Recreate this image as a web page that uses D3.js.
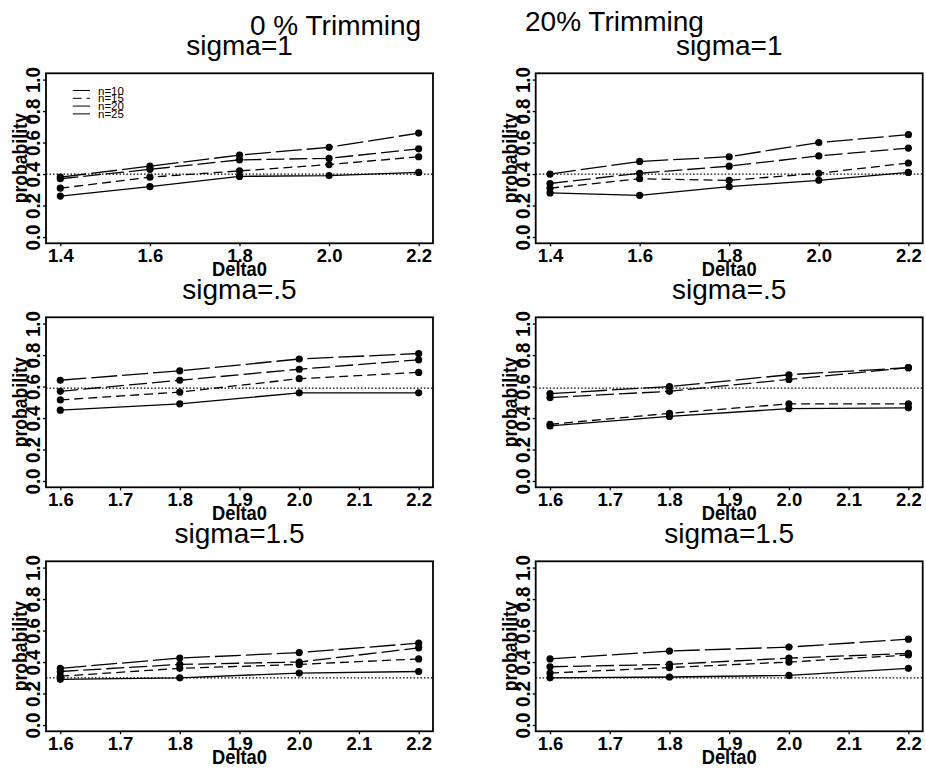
<!DOCTYPE html>
<html>
<head>
<meta charset="utf-8">
<script src="https://cdn.jsdelivr.net/npm/d3@7"></script>
<style>
  body { margin: 0; background: #fff; }
  svg { display: block; }
  .axis text { font-family: "Liberation Sans", Arial, sans-serif; font-size: 18.5px; font-weight: bold; fill: #000; }
  .axis line { stroke: #000; stroke-width: 1.3; }
  .axis path { display: none; }
</style>
</head>
<body>
<script>
// x values of each row
var delta1 = [1.4, 1.6, 1.8, 2.0, 2.2];
var delta2 = [1.6, 1.8, 2.0, 2.2];
var xTicks1 = [1.4, 1.6, 1.8, 2.0, 2.2];
var xTicks2 = [1.6, 1.7, 1.8, 1.9, 2.0, 2.1, 2.2];
var yTicks = [0, 0.2, 0.4, 0.6, 0.8, 1.0];

var seriesNames = ["n=10", "n=15", "n=20", "n=25"];

// probabilities, one row per n (n=10, n=15, n=20, n=25)
var trim0Sigma1 = [
  [0.38, 0.45, 0.52, 0.57, 0.66],
  [0.31, 0.38, 0.42, 0.46, 0.51],
  [0.37, 0.43, 0.49, 0.50, 0.56],
  [0.26, 0.32, 0.385, 0.39, 0.41]
];
var trim20Sigma1 = [
  [0.40, 0.48, 0.51, 0.60, 0.65],
  [0.31, 0.37, 0.36, 0.405, 0.47],
  [0.34, 0.405, 0.45, 0.515, 0.565],
  [0.28, 0.265, 0.32, 0.36, 0.41]
];
var trim0Sigma05 = [
  [0.64, 0.70, 0.775, 0.81],
  [0.515, 0.565, 0.65, 0.69],
  [0.57, 0.64, 0.71, 0.77],
  [0.45, 0.49, 0.56, 0.56]
];
var trim20Sigma05 = [
  [0.555, 0.60, 0.675, 0.72],
  [0.36, 0.43, 0.49, 0.49],
  [0.53, 0.57, 0.645, 0.72],
  [0.35, 0.41, 0.46, 0.465]
];
var trim0Sigma15 = [
  [0.36, 0.425, 0.46, 0.52],
  [0.31, 0.36, 0.385, 0.42],
  [0.34, 0.385, 0.40, 0.49],
  [0.29, 0.30, 0.33, 0.34]
];
var trim20Sigma15 = [
  [0.42, 0.47, 0.495, 0.545],
  [0.33, 0.365, 0.40, 0.445],
  [0.37, 0.385, 0.425, 0.455],
  [0.30, 0.305, 0.315, 0.36]
];

// reference levels (dotted lines)
var refLevels = [0.4, 0.59, 0.3];

var width = 926;
var height = 771;
var font = "'Liberation Sans', Arial, sans-serif";

// dash style per n
var dashes = ["26,5", "9,5", "18,5", null];

var svg = d3.select("body")
  .append("svg")
  .attr("width", width)
  .attr("height", height);

var panels = [
  { col: 0, row: 0, title: "sigma=1", xs: delta1, ticks: xTicks1, data: trim0Sigma1, ref: refLevels[0], legend: true },
  { col: 1, row: 0, title: "sigma=1", xs: delta1, ticks: xTicks1, data: trim20Sigma1, ref: refLevels[0] },
  { col: 0, row: 1, title: "sigma=.5", xs: delta2, ticks: xTicks2, data: trim0Sigma05, ref: refLevels[1] },
  { col: 1, row: 1, title: "sigma=.5", xs: delta2, ticks: xTicks2, data: trim20Sigma05, ref: refLevels[1] },
  { col: 0, row: 2, title: "sigma=1.5", xs: delta2, ticks: xTicks2, data: trim0Sigma15, ref: refLevels[2] },
  { col: 1, row: 2, title: "sigma=1.5", xs: delta2, ticks: xTicks2, data: trim20Sigma15, ref: refLevels[2] }
];

var boxW = 387, boxH = 170;
var lefts = [46, 535.7];
var tops = [73.3, 317.3, 561.3];

panels.forEach(function (p) {
  var left = lefts[p.col];
  var top = tops[p.row];
  var xmin = d3.min(p.xs), xmax = d3.max(p.xs);
  var pad = (xmax - xmin) * 0.04;

  var x = d3.scaleLinear().domain([xmin - pad, xmax + pad]).range([left, left + boxW]);
  var y = d3.scaleLinear().domain([-0.04, 1.04]).range([top + boxH, top]);

  var g = svg.append("g");

  // panel title
  g.append("text")
    .attr("x", left + boxW / 2)
    .attr("y", top - 18)
    .attr("text-anchor", "middle")
    .attr("font-family", font)
    .attr("font-size", 28)
    .text(p.title);

  // x axis
  g.append("g")
    .attr("class", "axis")
    .attr("transform", "translate(0," + (top + boxH) + ")")
    .call(d3.axisBottom(x).tickValues(p.ticks).tickSize(3).tickPadding(3).tickFormat(d3.format(".1f")));

  // y axis with labels parallel to axis
  var ya = g.append("g")
    .attr("class", "axis")
    .attr("transform", "translate(" + left + ",0)")
    .call(d3.axisLeft(y).tickValues(yTicks).tickSize(3).tickFormat(d3.format(".1f")));
  ya.selectAll("text")
    .attr("x", null)
    .attr("dy", null)
    .attr("transform", "translate(-6,0) rotate(-90)")
    .attr("text-anchor", "middle")
    .style("font-size", "21px")
    .attr("textLength", 26)
    .attr("lengthAdjust", "spacingAndGlyphs");

  // axis titles
  g.append("text")
    .attr("x", left + boxW / 2)
    .attr("y", top + boxH + 33)
    .attr("text-anchor", "middle")
    .attr("font-family", font)
    .attr("font-size", 21)
    .attr("font-weight", "bold")
    .attr("textLength", 55)
    .attr("lengthAdjust", "spacingAndGlyphs")
    .text("Delta0");

  g.append("text")
    .attr("transform", "translate(" + (left - 19) + "," + (top + boxH / 2) + ") rotate(-90)")
    .attr("text-anchor", "middle")
    .attr("font-family", font)
    .attr("font-size", 21)
    .attr("font-weight", "bold")
    .attr("textLength", 90)
    .attr("lengthAdjust", "spacingAndGlyphs")
    .text("probability");

  // box
  g.append("rect")
    .attr("x", left)
    .attr("y", top)
    .attr("width", boxW)
    .attr("height", boxH)
    .attr("fill", "none")
    .attr("stroke", "#000")
    .attr("stroke-width", 1.8);

  // reference line
  g.append("line")
    .attr("x1", left)
    .attr("x2", left + boxW)
    .attr("y1", y(p.ref))
    .attr("y2", y(p.ref))
    .attr("stroke", "#000")
    .attr("stroke-width", 1.2)
    .attr("stroke-dasharray", "1.5,2");

  var line = d3.line()
    .x(function (d, i) { return x(p.xs[i]); })
    .y(function (d) { return y(d); });

  p.data.forEach(function (vals, k) {
    g.append("path")
      .attr("d", line(vals))
      .attr("fill", "none")
      .attr("stroke", "#000")
      .attr("stroke-width", 1.3)
      .attr("stroke-dasharray", dashes[k]);

    g.selectAll(".pt" + k)
      .data(vals)
      .enter()
      .append("circle")
      .attr("class", "pt" + k)
      .attr("cx", function (d, i) { return x(p.xs[i]); })
      .attr("cy", function (d) { return y(d); })
      .attr("r", 3.6)
      .attr("fill", "#000");
  });

  // legend
  if (p.legend) {
    seriesNames.forEach(function (name, k) {
      var ly = 90.5 + k * 7.8;
      g.append("line")
        .attr("x1", left + 26.7)
        .attr("x2", left + 44)
        .attr("y1", ly)
        .attr("y2", ly)
        .attr("stroke", "#000")
        .attr("stroke-width", 1)
        .attr("stroke-dasharray", dashes[k]);
      g.append("text")
        .attr("x", left + 52)
        .attr("y", ly + 4)
        .attr("font-family", font)
        .attr("font-size", 11.5)
        .text(name);
    });
  }
});

// column headings
svg.append("text")
  .attr("x", 250)
  .attr("y", 35)
  .attr("font-family", font)
  .attr("font-size", 28)
  .text("0 % Trimming");

svg.append("text")
  .attr("x", 525)
  .attr("y", 31)
  .attr("font-family", font)
  .attr("font-size", 28)
  .text("20% Trimming");
</script>
</body>
</html>
